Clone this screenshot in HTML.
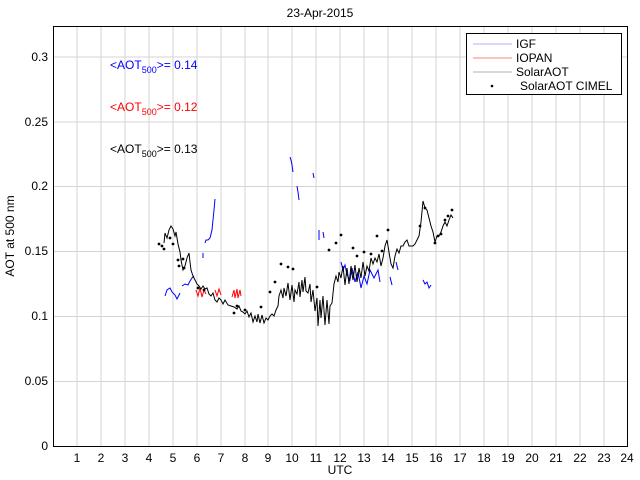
<!DOCTYPE html><html><head><style>body{margin:0;background:#fff}svg{display:block}text{font-family:"Liberation Sans",sans-serif;font-size:12px}</style></head><body>
<svg width="640" height="480" viewBox="0 0 640 480">
<rect width="640" height="480" fill="#fff"/>
<g stroke="#d4d4d4" stroke-width="1">
<path d="M77 26V446M101 26V446M125 26V446M149 26V446M173 26V446M197 26V446M221 26V446M245 26V446M268 26V446M292 26V446M316 26V446M340 26V446M364 26V446M388 26V446M412 26V446M436 26V446M460 26V446M484 26V446M508 26V446M532 26V446M556 26V446M580 26V446M604 26V446"/>
<path d="M53 381.5H627M53 316.5H627M53 251.5H627M53 186.5H627M53 122H627M53 57H627"/>
</g>
<rect x="53.5" y="26.5" width="574" height="420" fill="none" stroke="#000"/>
<text x="320" y="17" text-anchor="middle" font-size="11">23-Apr-2015</text>
<g font-size="11" text-anchor="end"><text x="48" y="450">0</text><text x="48" y="385">0.05</text><text x="48" y="320">0.1</text><text x="48" y="255">0.15</text><text x="48" y="190">0.2</text><text x="48" y="126">0.25</text><text x="48" y="61">0.3</text></g>
<g font-size="11" text-anchor="middle"><text x="77" y="462">1</text><text x="101" y="462">2</text><text x="125" y="462">3</text><text x="149" y="462">4</text><text x="173" y="462">5</text><text x="197" y="462">6</text><text x="221" y="462">7</text><text x="245" y="462">8</text><text x="268" y="462">9</text><text x="292" y="462">10</text><text x="316" y="462">11</text><text x="340" y="462">12</text><text x="364" y="462">13</text><text x="388" y="462">14</text><text x="412" y="462">15</text><text x="436" y="462">16</text><text x="460" y="462">17</text><text x="484" y="462">18</text><text x="508" y="462">19</text><text x="532" y="462">20</text><text x="556" y="462">21</text><text x="580" y="462">22</text><text x="604" y="462">23</text><text x="627" y="462">24</text></g>
<text x="340" y="474" text-anchor="middle">UTC</text>
<text transform="translate(14 236) rotate(-90)" text-anchor="middle" font-size="11">AOT at 500 nm</text>
<text x="110" y="69" fill="#0000ff">&lt;AOT<tspan font-size="9" dy="4">500</tspan><tspan dy="-4">&gt;= 0.14</tspan></text>
<text x="110" y="111" fill="#ff0000">&lt;AOT<tspan font-size="9" dy="4">500</tspan><tspan dy="-4">&gt;= 0.12</tspan></text>
<text x="110" y="153" fill="#000">&lt;AOT<tspan font-size="9" dy="4">500</tspan><tspan dy="-4">&gt;= 0.13</tspan></text>
<g fill="none" stroke="#0000ff" stroke-width="1">
<polyline points="165,296 167,290 170,288 172,292 175,295 177,299 180,293"/>
<polyline points="182,286 185,284 188,285 190,281 192,278 194,276"/>
<polyline points="203,253 203,258"/><polyline points="205,243 206,240 208,240 210,238 212,230 213,220 214,210 215,199"/>
<polyline points="290,157 291,160 292,165 293,172"/><polyline points="297,186 298,192 299,200"/><polyline points="313,173 314,178"/>
<polyline points="319,230 319,240"/><polyline points="323,232 324,238"/>
<polyline points="341,262 343,270 345,265 347,275 350,280 352,268 355,282 358,272 361,288 364,276 367,284 370,270 374,278 378,270 380,282"/>
<polyline points="390,277 392,285"/><polyline points="396,262 398,270"/>
<polyline points="423,280 425,284 427,282 429,288 431,285"/>
</g>
<g fill="none" stroke="#ff0000" stroke-width="1">
<polyline points="196,290 198,296 200,288 202,297 204,290 206,294"/>
<polyline points="215,290 217,296 219,289 221,295"/>
<polyline points="232,297 234,290 235,298 237,289 238,298 240,290 241,296"/>
</g>
<polyline fill="none" stroke="#000" stroke-width="1" points="164,243 165,233 167,238 169,230 171,226 173,229 175,236 176,232 178,244 180,252 181,260 183,270 185,266 187,258 189,253 190,262 191,270 193,276 195,280 197,284 199,286 201,289 203,286 205,289 207,288 209,294 211,296 213,293 215,300 217,302 219,298 221,300 223,304 225,300 228,305 231,306 234,307 237,309 239,306 241,311 243,312 245,314 247,311 249,317 251,313 253,322 255,316 257,322 258,314 260,323 262,315 264,323 266,318 268,320 270,316 272,314 274,316 276,310 278,306 279,296 281,290 283,298 284,288 286,296 288,283 290,300 292,285 294,302 295,290 297,294 299,282 300,297 302,280 303,292 305,277 306,291 308,293 310,284 311,302 313,290 315,311 317,298 318,326 320,300 321,318 323,296 325,325 327,300 329,324 330,306 332,303 334,284 336,276 338,282 339,272 341,278 343,266 345,285 347,268 349,284 351,266 353,280 355,265 357,282 359,268 361,278 363,262 365,276 367,266 369,271 371,258 373,264 375,258 377,262 379,254 381,266 383,258 385,246 387,240 389,252 391,264 393,268 395,256 397,249 399,253 401,246 403,246 405,242 407,240 409,246 411,246 413,246 415,244 417,240 419,236 421,222 423,201 425,208 427,210 429,218 431,226 433,232 435,242 437,236 439,236 441,232 443,226 445,222 447,226 449,220 451,215 453,218"/>
<g fill="#000">
<circle cx="159" cy="244" r="1.4"/><circle cx="162" cy="246" r="1.4"/><circle cx="164" cy="249" r="1.4"/><circle cx="170" cy="238" r="1.4"/><circle cx="173" cy="244" r="1.4"/><circle cx="178" cy="260" r="1.4"/><circle cx="183" cy="259" r="1.4"/><circle cx="179" cy="266" r="1.4"/><circle cx="184" cy="268" r="1.4"/><circle cx="198" cy="288" r="1.4"/><circle cx="204" cy="290" r="1.4"/><circle cx="237" cy="306" r="1.4"/><circle cx="234" cy="313" r="1.4"/><circle cx="245" cy="310" r="1.4"/><circle cx="261" cy="307" r="1.4"/><circle cx="270" cy="292" r="1.4"/><circle cx="275" cy="282" r="1.4"/><circle cx="281" cy="264" r="1.4"/><circle cx="288" cy="267" r="1.4"/><circle cx="293" cy="269" r="1.4"/><circle cx="317" cy="287" r="1.4"/><circle cx="329" cy="250" r="1.4"/><circle cx="336" cy="243" r="1.4"/><circle cx="341" cy="235" r="1.4"/><circle cx="353" cy="248" r="1.4"/><circle cx="357" cy="256" r="1.4"/><circle cx="364" cy="252" r="1.4"/><circle cx="371" cy="254" r="1.4"/><circle cx="377" cy="236" r="1.4"/><circle cx="382" cy="251" r="1.4"/><circle cx="388" cy="230" r="1.4"/><circle cx="420" cy="226" r="1.4"/><circle cx="425" cy="208" r="1.4"/><circle cx="435" cy="243" r="1.4"/><circle cx="438" cy="236" r="1.4"/><circle cx="441" cy="234" r="1.4"/><circle cx="445" cy="220" r="1.4"/><circle cx="448" cy="216" r="1.4"/><circle cx="452" cy="210" r="1.4"/>
</g>
<rect x="466.5" y="33.5" width="155" height="61" fill="#fff" stroke="#000"/>
<g stroke-width="1"><path d="M473 44H512" stroke="#b0b0ff"/><path d="M473 58H512" stroke="#ff8080"/><path d="M473 72H512" stroke="#b0b0b0"/></g>
<circle cx="492" cy="86" r="1.3" fill="#000"/>
<g font-size="11.5"><text x="516" y="48">IGF</text><text x="516" y="62">IOPAN</text><text x="516" y="76">SolarAOT</text><text x="520" y="90">SolarAOT CIMEL</text></g>
</svg></body></html>
